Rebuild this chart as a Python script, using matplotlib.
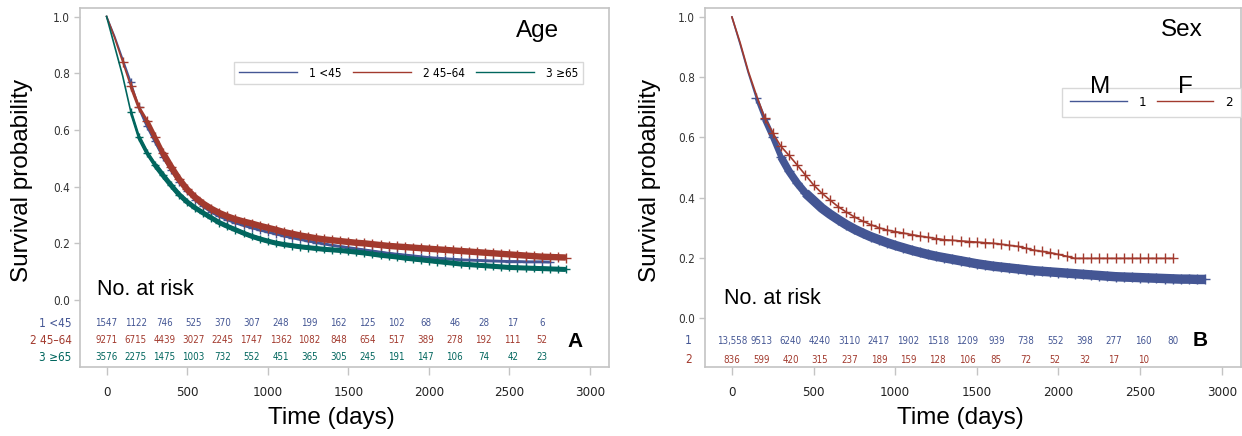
import numpy as np
import matplotlib
matplotlib.use("Agg")
import matplotlib.pyplot as plt
from matplotlib import font_manager

# ---- data ----
t_grid = list(range(0, 2950, 50))

# panel A: age groups (survival at 0, 50, 100, ... days)
age_lt45 = [1.0, 0.93, 0.85, 0.77, 0.68, 0.615, 0.56, 0.505, 0.46, 0.418,
            0.385, 0.353, 0.33, 0.31, 0.295, 0.283, 0.272, 0.263, 0.255, 0.247,
            0.24, 0.233, 0.226, 0.22, 0.214, 0.208, 0.203, 0.198, 0.193, 0.189,
            0.185, 0.181, 0.177, 0.173, 0.169, 0.165, 0.162, 0.159, 0.156, 0.153,
            0.15, 0.148, 0.146, 0.144, 0.142, 0.141, 0.14, 0.139, 0.138, 0.137,
            0.136, 0.136, 0.135, 0.135, 0.135, 0.134]
age_45_64 = [1.0, 0.925, 0.84, 0.755, 0.68, 0.632, 0.575, 0.518, 0.47, 0.426,
             0.39, 0.362, 0.34, 0.322, 0.307, 0.295, 0.285, 0.277, 0.27, 0.262,
             0.255, 0.248, 0.24, 0.234, 0.228, 0.223, 0.218, 0.214, 0.211, 0.208,
             0.205, 0.202, 0.2, 0.197, 0.194, 0.191, 0.189, 0.187, 0.185, 0.183,
             0.181, 0.179, 0.177, 0.175, 0.173, 0.171, 0.169, 0.167, 0.165, 0.163,
             0.161, 0.159, 0.157, 0.155, 0.153, 0.152, 0.151, 0.15]
age_ge65 = [1.0, 0.895, 0.79, 0.665, 0.575, 0.52, 0.477, 0.44, 0.405, 0.372,
            0.346, 0.325, 0.307, 0.29, 0.273, 0.26, 0.248, 0.236, 0.225, 0.216,
            0.208, 0.201, 0.196, 0.192, 0.188, 0.185, 0.182, 0.179, 0.177, 0.175,
            0.172, 0.169, 0.166, 0.162, 0.158, 0.155, 0.152, 0.148, 0.145, 0.142,
            0.139, 0.136, 0.133, 0.13, 0.127, 0.125, 0.123, 0.121, 0.119, 0.117,
            0.115, 0.114, 0.113, 0.112, 0.111, 0.11, 0.109, 0.108]
age_labels = ["1 <45", "2 45\u201364", "3 \u226565"]

# panel B: sex
sex_m = [1.0, 0.91, 0.815, 0.73, 0.66, 0.6, 0.535, 0.487, 0.448, 0.415,
         0.39, 0.365, 0.345, 0.327, 0.31, 0.295, 0.282, 0.27, 0.26, 0.25,
         0.241, 0.233, 0.225, 0.218, 0.211, 0.205, 0.2, 0.195, 0.19, 0.185,
         0.18, 0.176, 0.172, 0.169, 0.166, 0.163, 0.16, 0.157, 0.155, 0.153,
         0.151, 0.149, 0.147, 0.145, 0.143, 0.141, 0.139, 0.137, 0.136, 0.135,
         0.134, 0.133, 0.132, 0.131, 0.13, 0.129, 0.129, 0.128, 0.128]
sex_f = [1.0, 0.915, 0.82, 0.74, 0.665, 0.615, 0.57, 0.54, 0.508, 0.475,
         0.442, 0.415, 0.392, 0.37, 0.352, 0.336, 0.322, 0.31, 0.3, 0.292,
         0.287, 0.282, 0.277, 0.272, 0.268, 0.264, 0.26, 0.258, 0.256, 0.254,
         0.252, 0.25, 0.248, 0.245, 0.241, 0.238, 0.232, 0.225, 0.221, 0.217,
         0.211, 0.205, 0.198, 0.198, 0.198, 0.198, 0.198, 0.198, 0.198, 0.198,
         0.198, 0.198, 0.198, 0.198, 0.198]
sex_labels = ["1", "2"]

risk_times = list(range(0, 2880, 180))
risk_age = [
    [1547, 1122, 746, 525, 370, 307, 248, 199, 162, 125, 102, 68, 46, 28, 17, 6],
    [9271, 6715, 4439, 3027, 2245, 1747, 1362, 1082, 848, 654, 517, 389, 278, 192, 111, 52],
    [3576, 2275, 1475, 1003, 732, 552, 451, 365, 305, 245, 191, 147, 106, 74, 42, 23],
]
risk_sex = [
    ["13,558", 9513, 6240, 4240, 3110, 2417, 1902, 1518, 1209, 939, 738, 552, 398, 277, 160, 80],
    [836, 599, 420, 315, 237, 189, 159, 128, 106, 85, 72, 52, 32, 17, 10],
]

blue = "#445694"
red = "#a23a2e"
teal = "#01665e"
grey = "#c4c4c4"

avail = {f.name for f in font_manager.fontManager.ttflist}
main = "Liberation Sans" if "Liberation Sans" in avail else "DejaVu Sans"
plt.rcParams["font.family"] = [main, "DejaVu Sans"]
# condensed look for the small SAS-style labels
small = dict(family="DejaVu Sans", fontstretch="condensed")

fig = plt.figure(figsize=(12.42, 4.36), dpi=100)
axA = fig.add_axes([80 / 1242, 1 - 367 / 436, 529 / 1242, 359 / 436])
axB = fig.add_axes([705 / 1242, 1 - 367 / 436, 536 / 1242, 359 / 436])


def km(ax, s, color, bands, ms, label, start=3):
    # thin curve, then thicker layers where the censoring marks pile up
    t = t_grid[:len(s)]
    ax.plot(t, s, color=color, lw=1.2, label=label)
    for i0, lw in bands:
        ax.plot(t[i0:], s[i0:], color=color, lw=lw, solid_capstyle="butt")
    ax.plot(t[start:], s[start:], ls="none", marker="+", ms=ms, mew=1.0,
            color=color)


def style(ax, ylo):
    ax.set_xlim(-165, 3118)
    ax.set_ylim(ylo, 1.03)
    ax.set_xticks(range(0, 3001, 500))
    ax.set_yticks([0.0, 0.2, 0.4, 0.6, 0.8, 1.0])
    ax.set_yticklabels(["0.0", "0.2", "0.4", "0.6", "0.8", "1.0"])
    for sp in ax.spines.values():
        sp.set_color(grey)
        sp.set_linewidth(1.2)
    ax.tick_params(axis="x", length=6, width=1, color=grey, pad=8,
                   labelsize=9.5, labelcolor="#222222")
    ax.tick_params(axis="y", length=4, width=1, color=grey, pad=3,
                   labelsize=8.5, labelcolor="#333333")
    for lab in ax.get_xticklabels() + ax.get_yticklabels():
        lab.set_fontstretch("condensed")
        lab.set_family("DejaVu Sans")
    ax.text(0.476, -0.142, "Time (days)", transform=ax.transAxes,
            ha="center", va="center", fontsize=17.5)


# ---- panel A ----
km(axA, age_lt45, blue, [(4, 2.0)], 6, age_labels[0], start=3)
km(axA, age_45_64, red, [(3, 2.2), (5, 3.4), (7, 4.6)], 7, age_labels[1], start=2)
km(axA, age_ge65, teal, [(3, 2.0), (4, 2.8), (6, 3.6)], 6, age_labels[2], start=3)
style(axA, -0.236)
axA.text(-0.11, 0.52, "Survival probability", transform=axA.transAxes,
         rotation=90, ha="center", va="center", fontsize=17.5)
axA.text(0.864, 0.935, "Age", transform=axA.transAxes, ha="center",
         va="center", fontsize=17.5)
axA.text(0.032, 0.217, "No. at risk", transform=axA.transAxes, ha="left",
         va="center", fontsize=15.5)
axA.text(0.936, 0.07, "A", transform=axA.transAxes, ha="center",
         va="center", fontsize=15, fontweight="bold")
legA = axA.legend(loc="upper right", bbox_to_anchor=(0.951, 0.85), ncol=3,
                  handlelength=4.9, handletextpad=1.0, borderaxespad=0,
                  columnspacing=1.0, borderpad=0.4, fancybox=False,
                  framealpha=1, edgecolor="#d8d8d8",
                  prop={"family": "DejaVu Sans", "stretch": "condensed",
                        "size": 8.5})
for h in legA.get_lines():
    h.set_linewidth(1.0)
row_y = [-0.081, -0.141, -0.201]
for counts, color, y, lab in zip(risk_age, [blue, red, teal], row_y, age_labels):
    for t, n in zip(risk_times, counts):
        axA.text(t, y, str(n), ha="center", va="center", fontsize=7,
                 color=color, **small)
    axA.text(-0.016, y, lab, transform=axA.get_yaxis_transform(), ha="right",
             va="center", fontsize=8.5, color=color, **small)

# ---- panel B ----
km(axB, sex_m, blue, [(3, 2.5), (4, 4.0), (6, 5.5), (9, 6.8)], 7,
   sex_labels[0], start=3)
km(axB, sex_f, red, [], 7, sex_labels[1], start=4)
style(axB, -0.163)
axB.text(-0.103, 0.52, "Survival probability", transform=axB.transAxes,
         rotation=90, ha="center", va="center", fontsize=17.5)
axB.text(0.89, 0.94, "Sex", transform=axB.transAxes, ha="center",
         va="center", fontsize=17.5)
axB.text(0.035, 0.19, "No. at risk", transform=axB.transAxes, ha="left",
         va="center", fontsize=15.5)
axB.text(0.923, 0.075, "B", transform=axB.transAxes, ha="center",
         va="center", fontsize=15, fontweight="bold")
legB = axB.legend(loc="upper left", bbox_to_anchor=(0.666, 0.777), ncol=2,
                  handlelength=4.3, handletextpad=0.9, columnspacing=0.8,
                  borderpad=0.6, borderaxespad=0, fancybox=False,
                  framealpha=1, edgecolor="#d8d8d8",
                  prop={"family": "DejaVu Sans", "stretch": "condensed",
                        "size": 9.5})
for h in legB.get_lines():
    h.set_linewidth(1.0)
axB.text(0.737, 0.78, "M", transform=axB.transAxes, ha="center",
         va="center", fontsize=17.5, zorder=10)
axB.text(0.897, 0.78, "F", transform=axB.transAxes, ha="center",
         va="center", fontsize=17.5, zorder=10)
row_y = [-0.076, -0.139]
for counts, color, y, lab in zip(risk_sex, [blue, red], row_y, sex_labels):
    for t, n in zip(risk_times, counts):
        axB.text(t, y, str(n), ha="center", va="center", fontsize=7,
                 color=color, **small)
    axB.text(-0.025, y, lab, transform=axB.get_yaxis_transform(), ha="right",
             va="center", fontsize=8.5, color=color, **small)

fig.savefig("out.png", dpi=100)
